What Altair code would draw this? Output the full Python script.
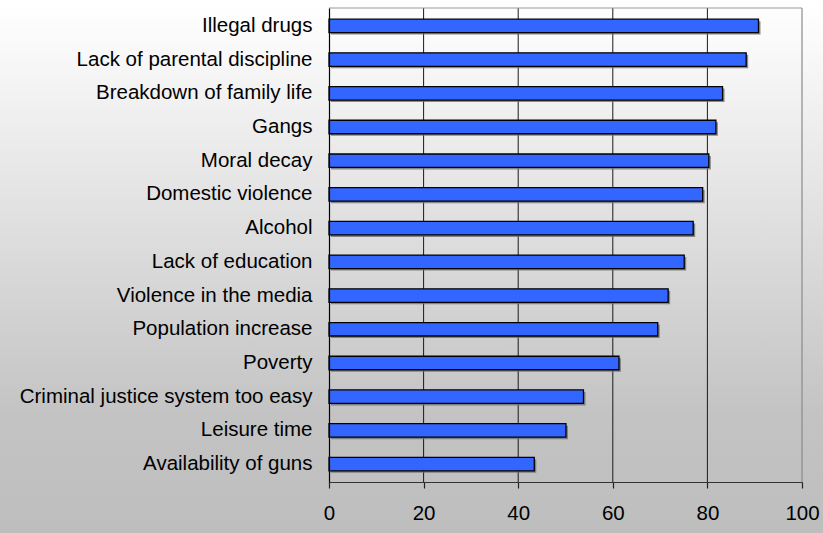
import altair as alt
import pandas as pd

categories = [
    "Illegal drugs",
    "Lack of parental discipline",
    "Breakdown of family life",
    "Gangs",
    "Moral decay",
    "Domestic violence",
    "Alcohol",
    "Lack of education",
    "Violence in the media",
    "Population increase",
    "Poverty",
    "Criminal justice system too easy",
    "Leisure time",
    "Availability of guns",
]
values = [90.8, 88.2, 83.2, 81.8, 80.3, 79.0, 77.0, 75.1, 71.7, 69.5, 61.3, 53.8, 50.1, 43.4]
grid_ticks = [20, 40, 60, 80]
x_ticks = [0, 20, 40, 60, 80, 100]

df = pd.DataFrame({"cause": categories, "pct": values})
grid_df = pd.DataFrame({"g": grid_ticks})
one = pd.DataFrame({"a": [0]})

W, H = 473, 474
PL, PT, PR, PB = 329, 8, 21, 51

xscale = alt.Scale(domain=[0, 100], nice=False, zero=True)
yscale = alt.Scale(domain=categories, paddingInner=0.6, paddingOuter=0.33)

bg = alt.Chart(one).mark_rect(
    fill=alt.LinearGradient(
        gradient="linear",
        x1=0, y1=0, x2=0, y2=1,
        stops=[
            alt.GradientStop(offset=0, color="#ffffff"),
            alt.GradientStop(offset=0.08, color="#fafafa"),
            alt.GradientStop(offset=0.78, color="#c3c3c3"),
            alt.GradientStop(offset=1, color="#bebebe"),
        ],
    ),
    strokeWidth=0,
).encode(
    x=alt.value(-PL), x2=alt.value(W + PR),
    y=alt.value(-PT), y2=alt.value(H + PB),
)

grid = alt.Chart(grid_df).mark_rule(color="#1a1a1a", strokeWidth=1).encode(
    x=alt.X("g:Q", scale=xscale),
)

right_border = alt.Chart(one).mark_rule(color="#8a8a8a", strokeWidth=1.2).encode(
    x=alt.datum(100, scale=xscale),
)
top_border = alt.Chart(one).mark_rule(color="#9a9a9a", strokeWidth=1.2).encode(
    x=alt.datum(0, scale=xscale), x2=alt.datum(100), y=alt.value(0),
)

shadow = alt.Chart(df).mark_bar(color="#6e6e6e", xOffset=2, yOffset=2, opacity=0.8).encode(
    y=alt.Y("cause:N", scale=yscale, sort=categories),
    x=alt.X("pct:Q", scale=xscale),
)

bars = alt.Chart(df).mark_bar(color="#3366FF", stroke="#000000", strokeWidth=1.3).encode(
    y=alt.Y(
        "cause:N", scale=yscale, sort=categories, title=None,
        axis=alt.Axis(
            ticks=False, labelPadding=17, domainColor="#000000", domainWidth=1.2,
            labelFont="Liberation Sans", labelFontSize=20.5, labelColor="#000000",
            labelLimit=400, grid=False, zindex=2,
        ),
    ),
    x=alt.X(
        "pct:Q", scale=xscale, title=None,
        axis=alt.Axis(
            values=x_ticks, tickSize=6, tickColor="#222222", domainColor="#333333",
            domainWidth=1.2, tickWidth=1.2, labelPadding=15,
            labelFont="Liberation Sans", labelFontSize=20.5, labelColor="#000000",
            grid=False, zindex=2, labelFlush=False,
        ),
    ),
)

chart = alt.layer(bg, grid, right_border, top_border, shadow, bars).properties(
    width=W, height=H,
    autosize=alt.AutoSizeParams(type="none"),
    padding={"left": PL, "top": PT, "right": PR, "bottom": PB},
    background="#ffffff",
).configure_view(stroke=None)

chart.save("out.html", embed_options={"renderer": "svg", "actions": False})
